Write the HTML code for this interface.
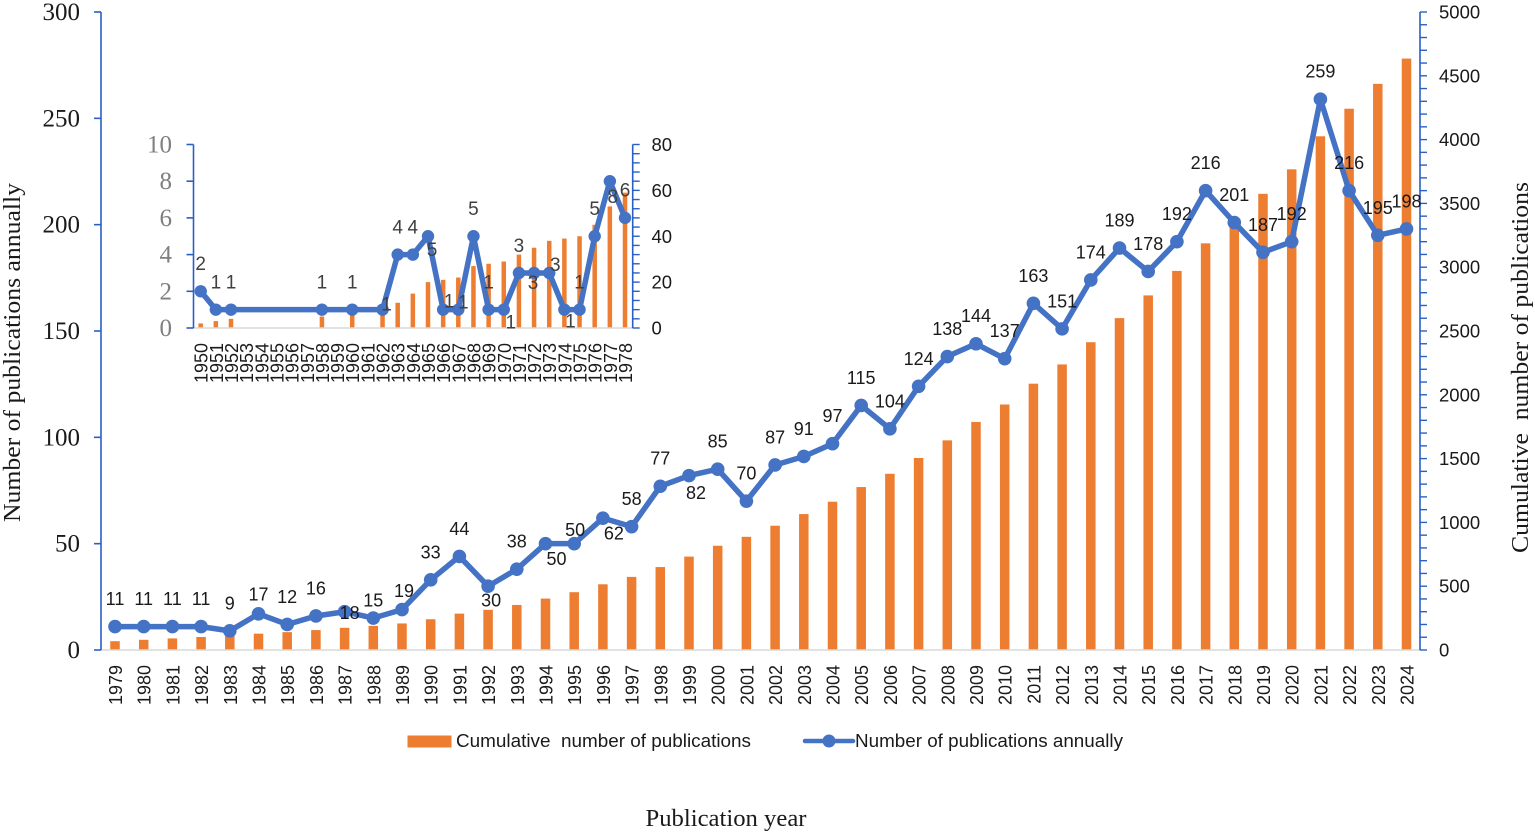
<!DOCTYPE html>
<html lang="en">
<head>
<meta charset="utf-8">
<title>Publications by year</title>
<style>
html,body{margin:0;padding:0;background:#fff;}
#chart{display:block;width:1535px;height:835px;background:#fff;}
text{white-space:pre;}
.sans{font-family:"Liberation Sans",sans-serif;}
.serif{font-family:"Liberation Serif",serif;}
</style>
</head>
<body>
<svg id="chart" xmlns="http://www.w3.org/2000/svg" width="1535" height="835" viewBox="0 0 1535 835">
  <g id="main-chart"></g>
  <g id="inset-chart"></g>
  <g>
    <rect x="407.5" y="735.5" width="44" height="12" fill="#ed7d31"/>
    <text class="sans" x="456" y="747" font-size="18" fill="#1a1a1a" textLength="295" lengthAdjust="spacingAndGlyphs">Cumulative  number of publications</text>
    <line x1="805" y1="741" x2="853" y2="741" stroke="#4472c4" stroke-width="4.5" stroke-linecap="round"/>
    <circle cx="829" cy="741" r="6.5" fill="#4472c4"/>
    <text class="sans" x="855" y="747" font-size="18" fill="#1a1a1a" textLength="268" lengthAdjust="spacingAndGlyphs">Number of publications annually</text>
  </g>
  <text class="serif" transform="translate(20,352.5) rotate(-90)" text-anchor="middle" font-size="24" fill="#1a1a1a" textLength="339" lengthAdjust="spacingAndGlyphs">Number of publications annually</text>
  <text class="serif" transform="translate(1528,367.5) rotate(-90)" text-anchor="middle" font-size="24" fill="#1a1a1a" textLength="371" lengthAdjust="spacingAndGlyphs">Cumulative  number of publications</text>
  <text class="serif" x="726" y="826" text-anchor="middle" font-size="24" fill="#1a1a1a" textLength="161" lengthAdjust="spacingAndGlyphs">Publication year</text>
</svg>
<script>
/* ---------- main chart data ---------- */
const mainYears = [1979,1980,1981,1982,1983,1984,1985,1986,1987,1988,1989,1990,1991,1992,1993,1994,1995,1996,1997,1998,1999,2000,2001,2002,2003,2004,2005,2006,2007,2008,2009,2010,2011,2012,2013,2014,2015,2016,2017,2018,2019,2020,2021,2022,2023,2024];
const mainAnnual = [11,11,11,11,9,17,12,16,18,15,19,33,44,30,38,50,50,62,58,77,82,85,70,87,91,97,115,104,124,138,144,137,163,151,174,189,178,192,216,201,187,192,259,216,195,198];
const mainCumulative = [69,80,91,102,111,128,140,156,174,189,208,241,285,315,353,403,453,515,573,650,732,817,887,974,1065,1162,1277,1381,1505,1643,1787,1924,2087,2238,2412,2601,2779,2971,3187,3388,3575,3767,4026,4242,4437,4635];
const mainLeftTicks = [0,50,100,150,200,250,300];
const mainRightTicks = [0,500,1000,1500,2000,2500,3000,3500,4000,4500,5000];

/* ---------- inset chart data ---------- */
const insetYears = [1950,1951,1952,1953,1954,1955,1956,1957,1958,1959,1960,1961,1962,1963,1964,1965,1966,1967,1968,1969,1970,1971,1972,1973,1974,1975,1976,1977,1978];
const insetAnnual = [2,1,1,null,null,null,null,null,1,null,1,null,1,4,4,5,1,1,5,1,1,3,3,3,1,1,5,8,6];
const insetCumulative = [2,3,4,null,null,null,null,null,5,null,6,null,7,11,15,20,21,22,27,28,29,32,35,38,39,40,45,53,59];
const insetLeftTicks = [0,2,4,6,8,10];
const insetRightTicks = [0,20,40,60,80];

/* ---------- label placement tweaks, keyed by year ---------- */
const labelShift = {
  1984:[0,8],1987:[5,29],1988:[0,10],1989:[2,9],1992:[3,42],1994:[11,43],1995:[1,14],1996:[11,43],1999:[7,45],
  1962:[4,22],1965:[4,41],1966:[6,19],1967:[5,20],1970:[7,40],1972:[-1,37],1973:[6,19],1974:[6,39],1977:[3,43]
};

const SVGNS = 'http://www.w3.org/2000/svg';
const AXIS_BLUE = '#2a5fc4', LINE_BLUE = '#4472c4', BAR_ORANGE = '#ed7d31', BASE_GREY = '#d9d9d9';

function make(tag, parent, props, content) {
  const node = document.createElementNS(SVGNS, tag);
  for (const k in props) node.setAttribute(k, props[k]);
  if (content !== undefined) node.textContent = content;
  parent.appendChild(node);
  return node;
}

function drawChart(root, cfg) {
  const xOf = i => cfg.x0 + (cfg.x1 - cfg.x0) * i / (cfg.years.length - 1);
  const yLeft = v => cfg.yBase - (cfg.yBase - cfg.yTop) * v / cfg.leftMax;
  const yRight = v => cfg.yBase - (cfg.yBase - cfg.yTop) * v / cfg.rightMax;

  /* bars */
  cfg.cumulative.forEach((v, i) => {
    if (v === null) return;
    const bar = make('rect', root, {x: xOf(i) - cfg.barW / 2, y: yRight(v), width: cfg.barW, height: cfg.yBase - yRight(v), fill: BAR_ORANGE});
    
    
  });

  /* baseline */
  const base = make('line', root, {x1: cfg.axisL, x2: cfg.axisR, y1: cfg.yBase, y2: cfg.yBase, stroke: BASE_GREY, 'stroke-width': 1.5});
  
  

  /* left axis */
  const leftAxis = make('line', root, {x1: cfg.axisL, x2: cfg.axisL, y1: cfg.yTop, y2: cfg.yBase, stroke: AXIS_BLUE, 'stroke-width': 1.6});
  
  
  cfg.leftTicks.forEach(t => {
    const tick = make('line', root, {x1: cfg.axisL - 7, x2: cfg.axisL, y1: yLeft(t), y2: yLeft(t), stroke: AXIS_BLUE, 'stroke-width': 1.6});
    
    
    const lab = make('text', root, {x: cfg.axisL - cfg.leftGap, y: yLeft(t) + 8, 'text-anchor': 'end', 'font-size': cfg.leftFont, fill: cfg.leftColor, class: 'serif'}, String(t));
    
    
  });

  /* right axis */
  const rightAxis = make('line', root, {x1: cfg.axisR, x2: cfg.axisR, y1: cfg.yTop, y2: cfg.yBase, stroke: AXIS_BLUE, 'stroke-width': 1.6});
  
  
  const step = cfg.rightTicks[1] - cfg.rightTicks[0];
  for (let m = 0; m <= cfg.rightMax + 1e-6; m += step / 5) {
    const minor = make('line', root, {x1: cfg.axisR, x2: cfg.axisR + 7, y1: yRight(m), y2: yRight(m), stroke: AXIS_BLUE, 'stroke-width': 1.4});
    
    
  }
  cfg.rightTicks.forEach(t => {
    const lab = make('text', root, {x: cfg.rightLabelX, y: yRight(t) + 6.5, 'font-size': 18.5, fill: '#1a1a1a', class: 'sans'}, String(t));
    
    
  });

  /* year labels */
  cfg.years.forEach((yr, i) => {
    const lab = make('text', root, {transform: 'translate(' + (xOf(i) + 7) + ',' + cfg.yearTop + ') rotate(-90)', 'text-anchor': 'end', 'font-size': 18, fill: '#1a1a1a', class: 'sans'}, String(yr));
    
    
  });

  /* line */
  const pts = [];
  cfg.annual.forEach((v, i) => { if (v !== null) pts.push({x: xOf(i), y: yLeft(v), v: v, yr: cfg.years[i]}); });
  const line = make('polyline', root, {points: pts.map(p => p.x + ',' + p.y).join(' '), fill: 'none', stroke: LINE_BLUE, 'stroke-width': cfg.lineW, 'stroke-linejoin': 'round'});
  
  

  /* markers */
  pts.forEach(p => {
    const dot = make('circle', root, {cx: p.x, cy: p.y, r: cfg.dotR, fill: LINE_BLUE});
    
    
  });

  /* value labels */
  pts.forEach(p => {
    const s = labelShift[p.yr] || [0, 0];
    const lab = make('text', root, {x: p.x + s[0], y: p.y - 28 + s[1] + cfg.valueFont * 0.36, 'text-anchor': 'middle', 'font-size': cfg.valueFont, fill: cfg.valueColor, class: 'sans'}, String(p.v));
    
    
  });
}

drawChart(document.getElementById('main-chart'), {
  years: mainYears, annual: mainAnnual, cumulative: mainCumulative,
  leftTicks: mainLeftTicks, rightTicks: mainRightTicks, leftMax: 300, rightMax: 5000,
  x0: 115, x1: 1406.5, yBase: 650, yTop: 12, axisL: 101, axisR: 1420,
  barW: 9.5, lineW: 5.5, dotR: 6.8, valueFont: 18, valueColor: '#1a1a1a',
  leftFont: 25, leftColor: '#1a1a1a', leftGap: 21, rightLabelX: 1439, yearTop: 665
});

drawChart(document.getElementById('inset-chart'), {
  years: insetYears, annual: insetAnnual, cumulative: insetCumulative,
  leftTicks: insetLeftTicks, rightTicks: insetRightTicks, leftMax: 10, rightMax: 80,
  x0: 200.7, x1: 625, yBase: 328, yTop: 144.5, axisL: 193.5, axisR: 632.7,
  barW: 4.5, lineW: 5.5, dotR: 6.2, valueFont: 19, valueColor: '#404040',
  leftFont: 25, leftColor: '#7f7f7f', leftGap: 21.5, rightLabelX: 651.5, yearTop: 343
});
</script>
</body>
</html>
